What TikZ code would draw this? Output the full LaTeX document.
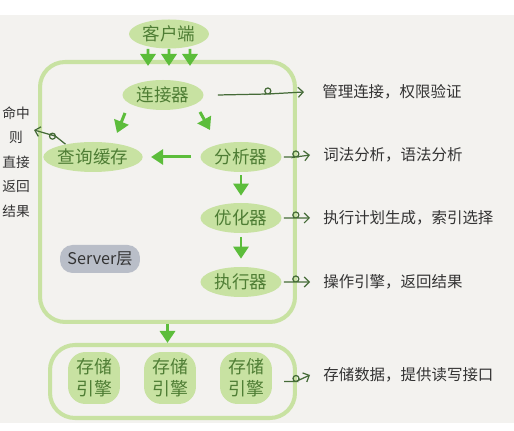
\documentclass[tikz,border=0pt]{standalone}
\usepackage{fontspec}
\newfontfamily\cjk{Noto Sans CJK SC}
\usetikzlibrary{arrows.meta,shapes.geometric}
\definecolor{leaf}{HTML}{C8E2A2}
\definecolor{ink}{HTML}{4E7D34}
\definecolor{flowgreen}{HTML}{5CBD3B}
\definecolor{paper}{HTML}{F3F2EF}
\definecolor{slate}{HTML}{B9BEC8}
\definecolor{pen}{HTML}{333333}
\definecolor{curl}{HTML}{456B38}

\begin{document}
\begin{tikzpicture}[
    x=0.02cm, y=-0.02cm,
    part/.style={ellipse, fill=leaf, text=ink, minimum width=1.62cm, minimum height=0.6cm, inner sep=0pt, font=\cjk\fontsize{10}{11}\selectfont},
    engine/.style={rectangle, rounded corners=0.35cm, fill=leaf, text=ink, minimum width=1.04cm, minimum height=1.04cm, inner sep=0pt, align=center, font=\cjk\fontsize{10.2}{12.5}\selectfont},
    frame/.style={draw=leaf, line width=2.3pt, rounded corners=0.5cm, inner sep=0pt},
    tag/.style={fill=slate, text=pen, rounded corners=0.25cm, minimum width=1.6cm, minimum height=0.56cm, font=\cjk\fontsize{9.2}{10}\selectfont},
    flow/.style={-{Triangle[length=0.24cm,width=0.3cm]}, line width=1.7pt, draw=flowgreen},
    note/.style={-{Straight Barb[length=0.1cm]}, draw=curl, line width=0.7pt},
    remark/.style={anchor=west, text=pen, inner sep=0pt, font=\cjk\fontsize{8.8}{10}\selectfont}
    ]

    \useasboundingbox (0,0) rectangle (514,431);
    \fill[white] (0,0) rectangle (514,431);
    \fill[paper] (0,15) rectangle (514,423);

    \node[frame, minimum width=5.1cm, minimum height=5.2cm] (srv) at (167.5,192) {};
    \node[frame, minimum width=4.9cm, minimum height=1.46cm] (sto) at (172.5,381.5) {};

    \node[part, minimum width=1.6cm, minimum height=0.58cm] (cli) at (169,34) {客户端};
    \node[part] (con) at (163,95) {连接器};
    \node[part] (cache) at (93,157) {查询缓存};
    \node[part] (ana) at (241,157) {分析器};
    \node[part] (opt) at (241,218) {优化器};
    \node[part] (exe) at (241,282) {执行器};
    \node[tag] (lay) at (100,259) {Server层};

    \node[engine] (e1) at (94,378) {存储\\引擎};
    \node[engine] (e2) at (170,378) {存储\\引擎};
    \node[engine] (e3) at (246,378) {存储\\引擎};

    \node[text=pen, align=center, inner sep=0pt, font=\cjk\fontsize{7.8}{14}\selectfont] (hit) at (16,162) {命中\\则\\直接\\返回\\结果};

    \node[remark] (d1) at (322,92) {管理连接，权限验证};
    \node[remark] (d2) at (323,155) {词法分析，语法分析};
    \node[remark] (d3) at (323,218) {执行计划生成，索引选择};
    \node[remark] (d4) at (323,282) {操作引擎，返回结果};
    \node[remark] (d5) at (323,375) {存储数据，提供读写接口};

    \draw[flow] ([xshift=-0.42cm]cli.south) -- ([xshift=-0.39cm,yshift=-0.12cm]srv.north);
    \draw[flow] (cli.south) -- ([xshift=0.03cm,yshift=-0.12cm]srv.north);
    \draw[flow] ([xshift=0.42cm]cli.south) -- ([xshift=0.45cm,yshift=-0.12cm]srv.north);
    \draw[flow] ([xshift=-0.76cm,yshift=-0.36cm]con.center) -- ([xshift=0.48cm,yshift=0.48cm]cache.center);
    \draw[flow] ([xshift=0.74cm,yshift=-0.34cm]con.center) -- ([xshift=-0.62cm,yshift=0.54cm]ana.center);
    \draw[flow] ([xshift=-0.18cm]ana.west) -- ([xshift=0.16cm]cache.east);
    \draw[flow] ([yshift=-0.06cm]ana.south) -- ([yshift=0.14cm]opt.north);
    \draw[flow] ([yshift=-0.08cm]opt.south) -- ([yshift=0.16cm]exe.north);
    \draw[flow] (srv.south) -- (srv.south |- sto.north);

    \draw[note] ([xshift=0.28cm]con.east) -- ++(50,-1) arc[start angle=90, end angle=450, radius=3] -- ([xshift=-0.36cm]d1.west);
    \draw[note] ([xshift=0.04cm]ana.east) -- ++(12,0) arc[start angle=90, end angle=450, radius=3] -- ([xshift=-0.26cm]d2.west);
    \draw[note] ([xshift=0.04cm]opt.east) -- ++(12,0) arc[start angle=90, end angle=450, radius=3] -- ([xshift=-0.26cm]d3.west);
    \draw[note] ([xshift=0.04cm]exe.east) -- ++(12,0) arc[start angle=90, end angle=450, radius=3] -- ([xshift=-0.26cm]d4.west);
    \draw[note] ([xshift=-0.26cm]sto.east) -- ++(12,0) arc[start angle=90, end angle=450, radius=3] -- ([xshift=-0.26cm]d5.west);
    \draw[note] (cache.155) -- ++(-10,-8) arc[start angle=0, end angle=360, radius=3] -- ([xshift=0.08cm,yshift=0.64cm]hit.east);

\end{tikzpicture}
\end{document}
